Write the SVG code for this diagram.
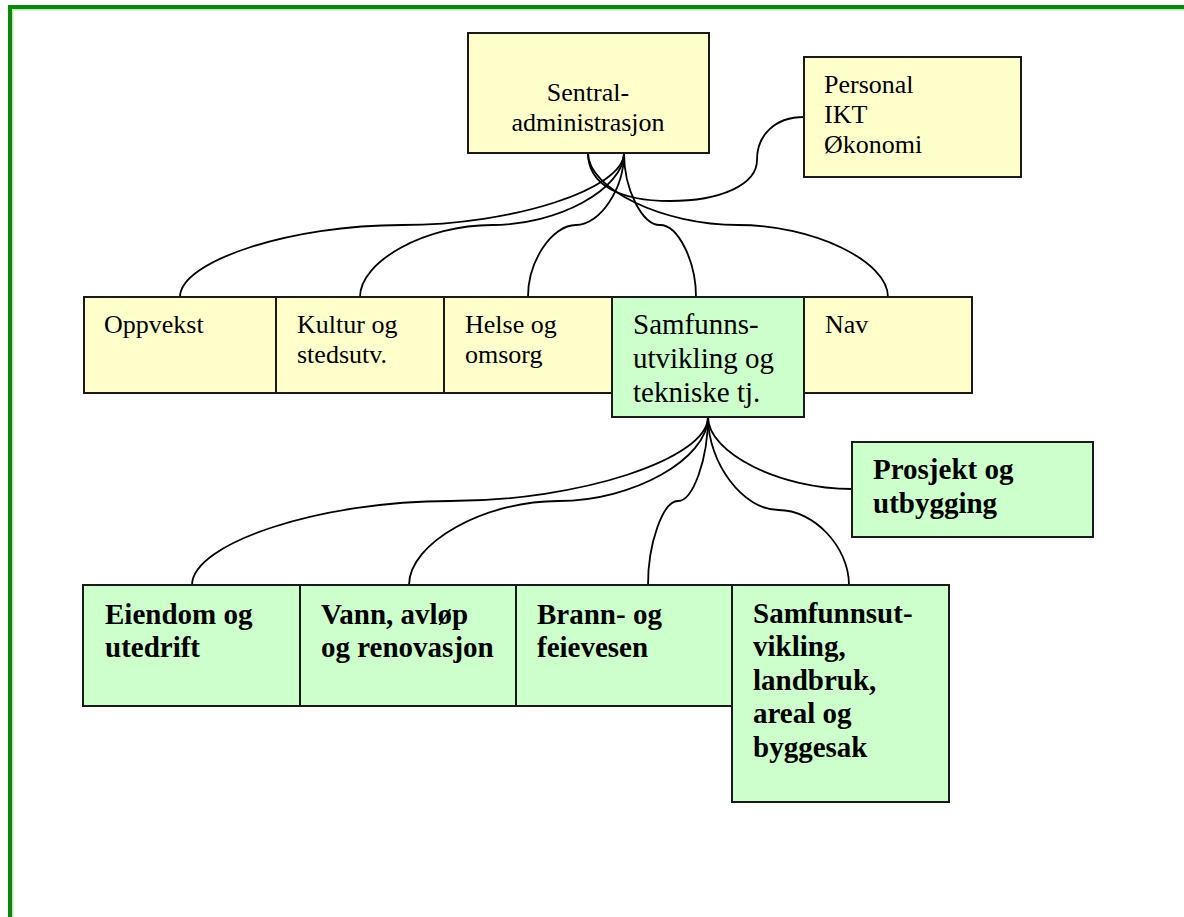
<svg xmlns="http://www.w3.org/2000/svg" width="1184" height="917" viewBox="0 0 1184 917">
<style>
.y{fill:#FFFFCC;stroke:#1a1a1a;stroke-width:2}
.g{fill:#CCFFCC;stroke:#1a1a1a;stroke-width:2}
text{font-family:'Liberation Serif','Times New Roman',Times,serif;fill:#000}
.t{font-size:26px}
.tm{font-size:29px}
.b{font-size:29px;font-weight:bold}
.c{fill:none;stroke:#000;stroke-width:1.8}
</style>
<rect width="1184" height="917" fill="#fff"/>
<g id="frame">
<path d="M10,917 V7 H1184" fill="none" stroke="#0a870a" stroke-width="4"/>
<path d="M12.8,917 V9.8 H1184" fill="none" stroke="#8ee08e" stroke-width="1"/>
</g>
<g id="connectors">
<path class="c" d="M624,153 C624,189 513,225 402,225 C291,225 180,261 180,297"/>
<path class="c" d="M624,153 C624,189 558,225 492,225 C426,225 360,261 360,297"/>
<path class="c" d="M624,153 C624,189 600,225 576,225 C552,225 528,261 528,297"/>
<path class="c" d="M624,153 C624,189 642,225 660,225 C678,225 696,261 696,297"/>
<path class="c" d="M588,153 C588,189 663,225 738,225 C813,225 888,261 888,297"/>
<path class="c" d="M588,153 C588,185 620,201 670,201 C720,201 757,185 757,160 C757,135 775,117 804,117"/>
<path class="c" d="M708,417 C708,459 579,501 450,501 C321,501 192,543 192,585"/>
<path class="c" d="M708,417 C708,459 633,501 558.5,501 C484,501 409,543 409,585"/>
<path class="c" d="M708,417 C708,459 693,501 678,501 C663,501 648,543 648,585"/>
<path class="c" d="M708,417 C708,463 743,510 778.5,510 C814,510 849,547 849,585"/>
<path class="c" d="M708,417 C708,453 780,489 852,489"/>
</g>
<g id="sentral">
<rect class="y" x="468" y="33" width="241" height="120"/>
<text class="t" x="588" y="101" text-anchor="middle" font-family="Liberation Serif, serif">Sentral-</text>
<text class="t" x="588" y="131" text-anchor="middle" font-family="Liberation Serif, serif">administrasjon</text>
</g>
<g id="personal">
<rect class="y" x="804" y="57" width="217" height="120"/>
<text class="t" x="824" y="93">Personal</text>
<text class="t" x="824" y="123">IKT</text>
<text class="t" x="824" y="153">Økonomi</text>
</g>
<g id="oppvekst">
<rect class="y" x="84" y="297" width="192" height="96"/>
<text class="t" x="104" y="333">Oppvekst</text>
</g>
<g id="kultur">
<rect class="y" x="276" y="297" width="168" height="96"/>
<text class="t" x="297" y="333">Kultur og</text>
<text class="t" x="297" y="363">stedsutv.</text>
</g>
<g id="helse">
<rect class="y" x="444" y="297" width="168" height="96"/>
<text class="t" x="465" y="333">Helse og</text>
<text class="t" x="465" y="363">omsorg</text>
</g>
<g id="nav">
<rect class="y" x="804" y="297" width="168" height="96"/>
<text class="t" x="825" y="333">Nav</text>
</g>
<g id="samfunns">
<rect class="g" x="612" y="297" width="192" height="120"/>
<text class="tm" x="633" y="334">Samfunns-</text>
<text class="tm" x="633" y="368">utvikling og</text>
<text class="tm" x="633" y="402">tekniske tj.</text>
</g>
<g id="prosjekt">
<rect class="g" x="852" y="442" width="241" height="95"/>
<text class="b" x="873" y="479">Prosjekt og</text>
<text class="b" x="873" y="513">utbygging</text>
</g>
<g id="eiendom">
<rect class="g" x="83" y="585" width="217" height="121"/>
<text class="b" x="105" y="624">Eiendom og</text>
<text class="b" x="105" y="657">utedrift</text>
</g>
<g id="vann">
<rect class="g" x="300" y="585" width="216" height="121"/>
<text class="b" x="321" y="624">Vann, avløp</text>
<text class="b" x="321" y="657">og renovasjon</text>
</g>
<g id="brann">
<rect class="g" x="516" y="585" width="216" height="121"/>
<text class="b" x="537" y="624">Brann- og</text>
<text class="b" x="537" y="657">feievesen</text>
</g>
<g id="samfunnsut">
<rect class="g" x="732" y="585" width="217" height="217"/>
<text class="b" x="753" y="623">Samfunnsut-</text>
<text class="b" x="753" y="656">vikling,</text>
<text class="b" x="753" y="690">landbruk,</text>
<text class="b" x="753" y="723">areal og</text>
<text class="b" x="753" y="757">byggesak</text>
</g>
</svg>
